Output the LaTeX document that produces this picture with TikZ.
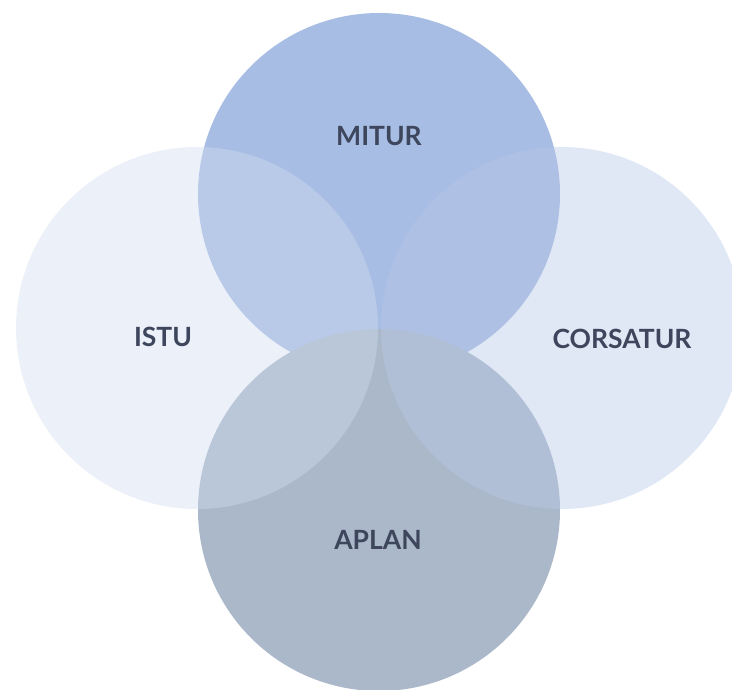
\documentclass[tikz,border=0pt]{standalone}
\usepackage{fontspec}
\setmainfont{Lato}
\definecolor{topc}{HTML}{A8BDE4}
\definecolor{botc}{HTML}{ABB8C9}
\definecolor{leftc}{HTML}{D1DDF0}
\definecolor{rightc}{HTML}{B8C8E8}
\definecolor{txt}{HTML}{3D465C}
\tikzset{
  lbl/.style={text=txt, font=\fontsize{26.5}{30}\selectfont\bfseries, inner sep=0pt, anchor=center},
  circ/.style={circle, minimum size=362pt, inner sep=0pt, draw=none},
}
\begin{document}
\begin{tikzpicture}[x=1pt,y=-1pt]
\useasboundingbox (0,0) rectangle (732,690);
\begin{scope}
\clip (0,0) rectangle (732,690);
\node[circ, fill=topc] (mitur) at (379,194) {};
\node[circ, fill=botc] (aplan) at (379,510) {};
\node[circ, fill=leftc, fill opacity=0.42] (istu) at (197,328) {};
\node[circ, fill=rightc, fill opacity=0.43] (corsatur) at (562,328) {};
\end{scope}
\node[lbl] (t1) at (379,136) {MITUR};
\node[lbl] (t2) at (163,337) {ISTU};
\node[lbl] (t3) at (622,339) {CORSATUR};
\node[lbl] (t4) at (378,540) {APLAN};
\end{tikzpicture}
\end{document}
